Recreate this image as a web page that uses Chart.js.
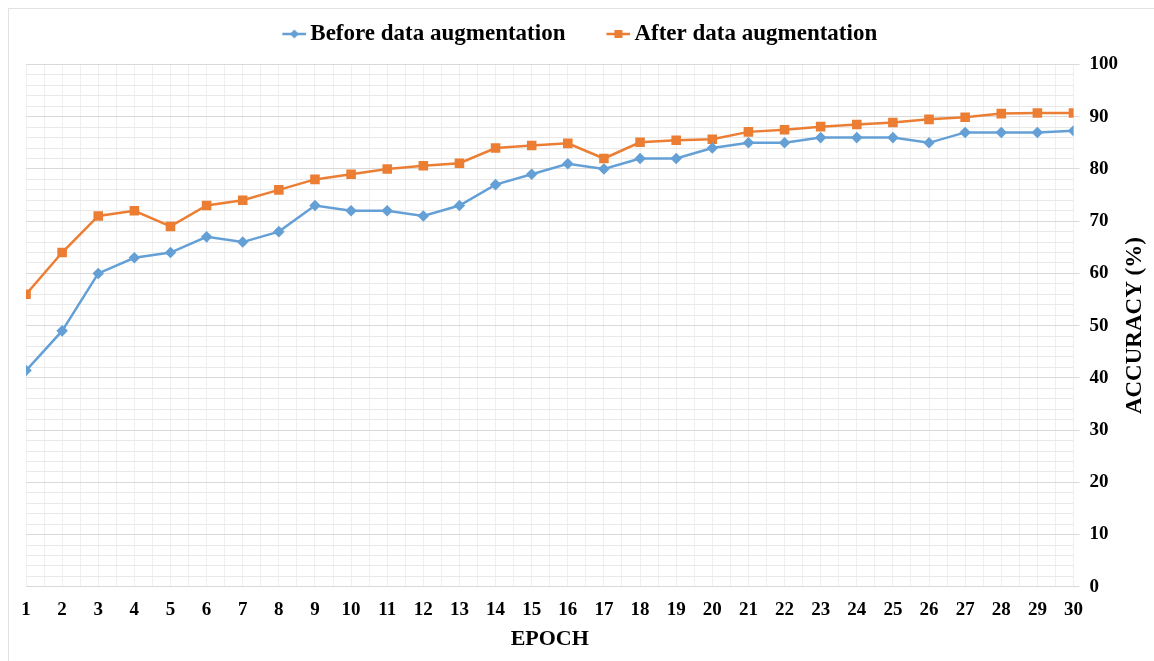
<!DOCTYPE html>
<html>
<head>
<meta charset="utf-8">
<script src="https://cdn.jsdelivr.net/npm/chart.js@4.4.1/dist/chart.umd.min.js"></script>
<style>
  html, body { margin: 0; padding: 0; background: #fff; }
  #wrap { position: relative; width: 1154px; height: 661px; }
  #frame { position: absolute; left: 8px; top: 8px; right: 0; bottom: 0;
           border-left: 1px solid #e2e2e2; border-top: 1px solid #e2e2e2; pointer-events: none; }
</style>
</head>
<body>
<div id="wrap">
  <canvas id="myChart"></canvas>
  <div id="frame"></div>
</div>
<script>
const epochs = [1, 2, 3, 4, 5, 6, 7, 8, 9, 10, 11, 12, 13, 14, 15,
  16, 17, 18, 19, 20, 21, 22, 23, 24, 25, 26, 27, 28, 29, 30];
const beforeAug = [41.4, 49, 60, 63, 64, 67, 66, 68, 73, 72, 72, 71, 73, 77, 79,
  81, 80, 82, 82, 84, 85, 85, 86, 86, 86, 85, 87, 87, 87, 87.3];
const afterAug = [56, 64, 71, 72, 69, 73, 74, 76, 78, 79, 80, 80.6, 81.1, 84, 84.5,
  84.9, 82, 85.1, 85.5, 85.7, 87.1, 87.5, 88.1, 88.5, 88.9, 89.5, 89.9, 90.6, 90.7, 90.7];

const blue = "#64a0d6";
const orange = "#ec7e34";
const serif = "'Liberation Serif', 'DejaVu Serif', serif";

// line + marker icon for the legend (canvas is centred on the legend box,
// the drawn part sits on its right half so it ends close to the text)
function legendIcon(color, shape) {
  const c = document.createElement("canvas");
  c.width = 37;
  c.height = 12;
  const g = c.getContext("2d");
  g.strokeStyle = color;
  g.lineWidth = 2.5;
  g.beginPath();
  g.moveTo(13, 6);
  g.lineTo(37, 6);
  g.stroke();
  g.fillStyle = color;
  if (shape === "rect") {
    g.fillRect(21, 2, 8, 8);
  } else {
    g.beginPath();
    g.moveTo(25, 1.5);
    g.lineTo(29.5, 6);
    g.lineTo(25, 10.5);
    g.lineTo(20.5, 6);
    g.closePath();
    g.fill();
  }
  return c;
}

const rightTitle = {
  id: "rightTitle",
  afterDraw(chart) {
    const { ctx, chartArea } = chart;
    ctx.save();
    ctx.translate(chart.width - 19, (chartArea.top + chartArea.bottom) / 2);
    ctx.rotate(-Math.PI / 2);
    ctx.font = "bold 23px " + serif;
    ctx.fillStyle = "#000";
    ctx.textAlign = "center";
    ctx.textBaseline = "middle";
    ctx.fillText("ACCURACY (%)", 0, 0);
    ctx.restore();
  },
};

const ctx = document.getElementById("myChart").getContext("2d");

const myChart = new Chart(ctx, {
  type: "line",
  data: {
    datasets: [
      {
        label: "Before data augmentation",
        data: epochs.map((e, i) => ({ x: e, y: beforeAug[i] })),
        borderColor: blue,
        backgroundColor: blue,
        borderWidth: 2.5,
        pointStyle: "rectRot",
        radius: 4,
        fill: false,
        legendIcon: legendIcon(blue, "diamond"),
      },
      {
        label: "After data augmentation",
        data: epochs.map((e, i) => ({ x: e, y: afterAug[i] })),
        borderColor: orange,
        backgroundColor: orange,
        borderWidth: 2.5,
        pointStyle: "rect",
        radius: 5,
        fill: false,
        legendIcon: legendIcon(orange, "rect"),
      },
    ],
  },
  options: {
    responsive: true,
    maintainAspectRatio: false,
    animation: false,
    layout: { padding: { left: 26, right: 26, top: -13, bottom: 8 } },
    plugins: {
      tooltip: { enabled: false },
      // empty title used only as a spacer between legend and plot
      title: {
        display: true,
        text: "",
        weight: 500,
        font: { size: 1, lineHeight: 1 },
        padding: { top: 8, bottom: 0 },
      },
      legend: {
        position: "top",
        labels: {
          color: "#000",
          font: { family: serif, size: 23, weight: "bold" },
          usePointStyle: true,
          pointStyleWidth: 22,
          padding: 35.5,
          generateLabels: (chart) =>
            chart.data.datasets.map((ds, i) => ({
              text: ds.label,
              pointStyle: ds.legendIcon,
              fontColor: "#000",
              datasetIndex: i,
              lineWidth: 0,
            })),
        },
      },
    },
    scales: {
      x: {
        type: "linear",
        min: 1,
        max: 30,
        border: { display: false },
        grid: { color: "#efefef", drawTicks: false },
        ticks: {
          stepSize: 0.5,
          autoSkip: false,
          maxRotation: 0,
          padding: 12,
          color: "#000",
          font: { family: serif, size: 19, weight: "bold" },
          callback: (v) => (Number.isInteger(v) ? v : ""),
        },
        title: {
          display: true,
          text: "EPOCH",
          color: "#000",
          font: { family: serif, size: 22, weight: "bold" },
          padding: { top: -7, bottom: 0 },
        },
      },
      y: {
        position: "right",
        min: 0,
        max: 100,
        border: { display: false },
        grid: {
          color: (c) => (c.tick && c.tick.value % 10 === 0 ? "#d9d9d9" : "#e9e9e9"),
          tickColor: (c) => (c.tick && c.tick.value % 10 === 0 ? "#d9d9d9" : "rgba(0,0,0,0)"),
          tickLength: 6,
        },
        ticks: {
          stepSize: 2,
          autoSkip: false,
          padding: 10,
          color: "#000",
          font: { family: serif, size: 19, weight: "bold" },
          callback: (v) => (v % 10 === 0 ? v : ""),
        },
      },
    },
  },
  plugins: [rightTitle],
});
</script>
</body>
</html>
